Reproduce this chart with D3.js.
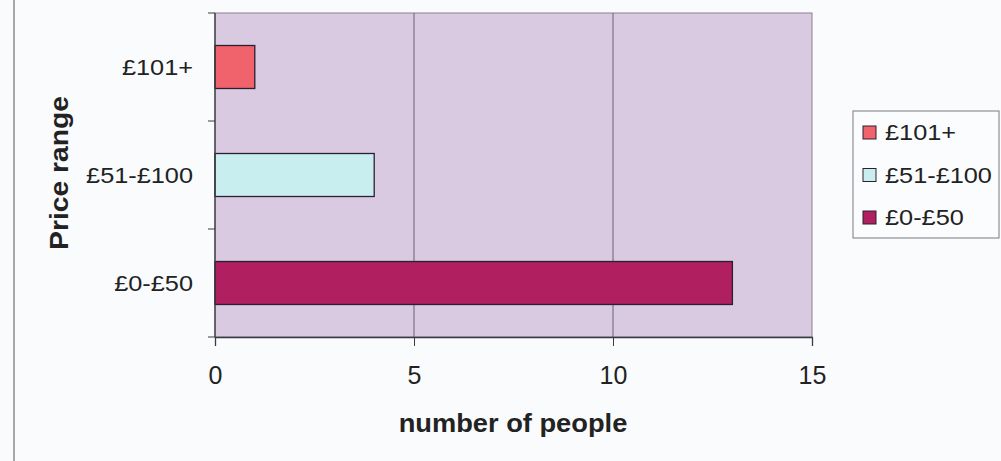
<!DOCTYPE html>
<html>
<head>
<meta charset="utf-8">
<script src="https://cdn.jsdelivr.net/npm/d3@7"></script>
<style>
  html, body { margin: 0; padding: 0; background: #f9fbfd; }
  svg { display: block; }
  text { font-family: Arial, "Liberation Sans", sans-serif; fill: #222; }
</style>
</head>
<body>
<svg id="chart" width="1001" height="461"></svg>
<script>
// Price ranges, top to bottom
const categories = ["£101+", "£51-£100", "£0-£50"];
const people = [1, 4, 13];
const barColors = ["#f0626c", "#c9eef0", "#b01f5f"];
const xTicks = [0, 5, 10, 15];

const svg = d3.select("#chart");
const W = 1001, H = 461;
const plot = { left: 215, top: 13, right: 812, bottom: 337 };

// Widen glyphs slightly (the chart's font runs wider than Arial)
function stretch(sel, factor) {
  sel.each(function () {
    const len = this.getComputedTextLength();
    d3.select(this).attr("textLength", len * factor).attr("lengthAdjust", "spacingAndGlyphs");
  });
}

// Chart frame line on the left
svg.append("line")
  .attr("x1", 14).attr("x2", 14).attr("y1", 0).attr("y2", H)
  .attr("stroke", "#a8a8ac").attr("stroke-width", 2);

const x = d3.scaleLinear().domain([0, 15]).range([plot.left, plot.right]);
const y = d3.scaleBand().domain(categories).range([plot.top, plot.bottom]);
const barH = 43;

// Plot background
svg.append("rect")
  .attr("x", plot.left).attr("y", plot.top)
  .attr("width", plot.right - plot.left).attr("height", plot.bottom - plot.top)
  .attr("fill", "#d9cae2").attr("stroke", "#8a8090").attr("stroke-width", 1);

// Vertical gridlines
svg.append("g").selectAll("line")
  .data(xTicks.filter(t => t > 0 && t < 15))
  .join("line")
  .attr("x1", d => x(d)).attr("x2", d => x(d))
  .attr("y1", plot.top).attr("y2", plot.bottom)
  .attr("stroke", "#6a6270").attr("stroke-width", 1);

// Bars
svg.append("g").selectAll("rect")
  .data(categories)
  .join("rect")
  .attr("x", x(0))
  .attr("y", d => y(d) + (y.bandwidth() - barH) / 2)
  .attr("width", (d, i) => x(people[i]) - x(0))
  .attr("height", barH)
  .attr("fill", (d, i) => barColors[i])
  .attr("stroke", "#2a2030").attr("stroke-width", 1.3);

// X axis
const xAxis = svg.append("g")
  .attr("transform", `translate(0,${plot.bottom})`)
  .call(d3.axisBottom(x).tickValues(xTicks).tickSize(9).tickPadding(20));
xAxis.select(".domain").attr("stroke", "#3a3a40").attr("stroke-width", 1.3);
xAxis.selectAll(".tick line").attr("stroke", "#3a3a40");
xAxis.selectAll(".tick text").attr("font-size", 25).attr("fill", "#222")
  .attr("font-family", "Arial, 'Liberation Sans', sans-serif");

// Y axis: ticks at band boundaries
const yAxis = svg.append("g")
  .attr("transform", `translate(${plot.left},0)`);
yAxis.append("line")
  .attr("x1", 0).attr("x2", 0).attr("y1", plot.top).attr("y2", plot.bottom)
  .attr("stroke", "#3a3a40").attr("stroke-width", 1.3);
const boundaries = categories.map(c => y(c)).concat([plot.bottom]);
yAxis.selectAll("line.tk").data(boundaries).join("line").attr("class", "tk")
  .attr("x1", -7).attr("x2", 0).attr("y1", d => d).attr("y2", d => d)
  .attr("stroke", "#3a3a40");
yAxis.selectAll("text").data(categories).join("text")
  .attr("x", -22).attr("y", d => y(d) + y.bandwidth() / 2 + 8)
  .attr("text-anchor", "end")
  .attr("font-size", 22).text(d => d)
  .call(stretch, 1.15);

// Axis titles
svg.append("text")
  .attr("x", 513).attr("y", 432)
  .attr("text-anchor", "middle").attr("font-size", 25).attr("font-weight", "bold")
  .text("number of people")
  .call(stretch, 1.09);
svg.append("text")
  .attr("transform", `translate(68,173) rotate(-90)`)
  .attr("text-anchor", "middle").attr("font-size", 25).attr("font-weight", "bold")
  .text("Price range")
  .call(stretch, 1.13);

// Legend
const legend = svg.append("g").attr("transform", "translate(853,111)");
legend.append("rect")
  .attr("width", 146).attr("height", 127)
  .attr("fill", "#fbfcfe").attr("stroke", "#7a7a80").attr("stroke-width", 1);
const rows = legend.selectAll("g").data(categories).join("g")
  .attr("transform", (d, i) => `translate(0,${21 + i * 42.5})`);
rows.append("rect")
  .attr("x", 10).attr("y", -6).attr("width", 13).attr("height", 13)
  .attr("fill", (d, i) => barColors[i]).attr("stroke", "#2a2030").attr("stroke-width", 1);
rows.append("text")
  .attr("x", 32).attr("y", 8)
  .attr("font-size", 22).text(d => d)
  .call(stretch, 1.15);
</script>
</body>
</html>
